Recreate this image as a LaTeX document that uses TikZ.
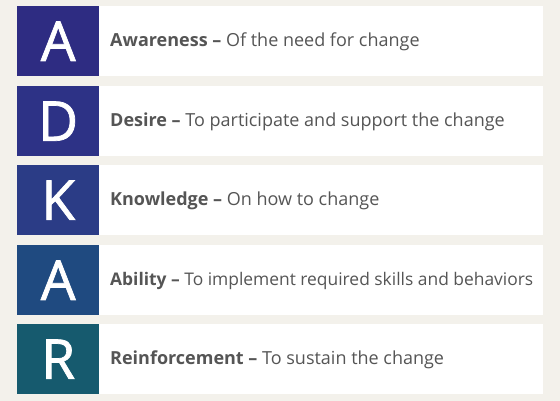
\documentclass[tikz,border=0pt]{standalone}
\usepackage{fontspec}
\setmainfont{Open Sans}
\newfontfamily\letterfont{Open Sans}[FakeBold=1.3]
\definecolor{bgc}{HTML}{F3F1EB}
\definecolor{txt}{HTML}{555555}
\definecolor{c1}{HTML}{2E2C82}
\definecolor{c2}{HTML}{2D3286}
\definecolor{c3}{HTML}{2B3C86}
\definecolor{c4}{HTML}{1F4A80}
\definecolor{c5}{HTML}{165A6E}
\tikzset{
  letterbox/.style={fill=#1, draw=none, minimum width=82pt, minimum height=70pt, inner sep=0pt, text=white, font=\letterfont\fontsize{55}{55}\selectfont, anchor=north west},
  rowbox/.style={fill=white, draw=none, minimum width=444pt, minimum height=70pt, inner sep=0pt, anchor=north west},
  rowtext/.style={text=txt, font=\fontsize{#1}{21}\selectfont, anchor=west, inner sep=0pt}
}
\begin{document}
\begin{tikzpicture}[x=1pt,y=-1pt]
\fill[bgc] (0,0) rectangle (560,401);
\useasboundingbox (0,0) rectangle (560,401);
\foreach \i/\y/\c/\L/\B/\T/\s in {1/6/c1/A/Awareness/Of the need for change/18,
  2/86/c2/D/Desire/To participate and support the change/18,
  3/165/c3/K/Knowledge/On how to change/18,
  4/245/c4/A/Ability/To implement required skills and behaviors/17.4,
  5/324/c5/R/Reinforcement/To sustain the change/18}{
  \node[rowbox] (row\i) at (99,\y) {};
  \node[letterbox=\c] (let\i) at (17,\y) {\L};
  \node[rowtext=\s] (txt\i) at ([xshift=11pt,yshift=-1pt]row\i.west) {\textbf{\B~–} \T};
}
\end{tikzpicture}
\end{document}
